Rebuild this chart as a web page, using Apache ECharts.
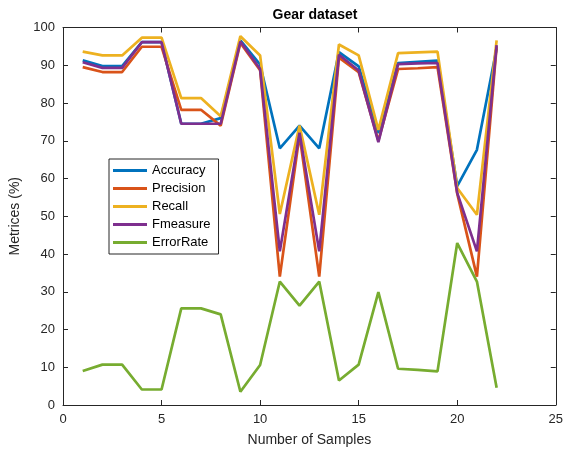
<!DOCTYPE html>
<html><head><meta charset="utf-8">
<script src="https://cdn.jsdelivr.net/npm/echarts@6/dist/echarts.min.js"></script>
<style>html,body{margin:0;padding:0;background:#fff}#c{width:566px;height:453px}</style>
</head><body><div id="c"></div>
<script>
const samples = [1,2,3,4,5,6,7,8,9,10,11,12,13,14,15,16,17,18,19,20,21,22];
const accuracy  = [91.3,89.8,89.8,96.1,96.1,74.5,74.5,76.0,96.6,90.2,68.0,74.0,68.0,93.5,89.7,72.0,90.6,90.9,91.2,58.0,67.6,94.5];
const precision = [89.5,88.2,88.2,94.9,94.9,78.2,78.2,74.0,95.9,88.7,34.0,71.5,34.0,92.0,88.2,70.0,89.0,89.2,89.5,56.0,34.0,95.0];
const recall    = [93.6,92.6,92.6,97.3,97.3,81.3,81.3,76.5,97.7,92.6,50.6,74.0,50.4,95.5,92.6,72.9,93.2,93.4,93.6,57.5,50.4,96.6];
const fmeasure  = [90.8,89.3,89.3,96.1,96.1,74.5,74.5,74.5,96.3,89.0,40.7,72.1,40.7,92.8,88.6,69.6,90.3,90.5,90.6,56.2,40.7,95.3];
const errorRate = [9.0,10.7,10.7,4.1,4.1,25.6,25.6,24.0,3.5,10.6,32.7,26.3,32.7,6.5,10.7,29.9,9.6,9.3,8.9,42.9,32.7,4.6];
const seriesNames = ['Accuracy','Precision','Recall','Fmeasure','ErrorRate'];
const seriesData = [accuracy, precision, recall, fmeasure, errorRate];
const colors = ['#0072BD','#D95319','#EDB120','#7E2F8E','#77AC30'];

const font = "'Liberation Sans', Arial, Helvetica, sans-serif";
const axisCol = '#262626';
const chart = echarts.init(document.getElementById('c'), null, {renderer:'canvas'});
const baseX = {type:'value', min:0, max:25, interval:5,
  axisLine:{show:true, onZero:false, lineStyle:{color:axisCol, width:1}},
  axisTick:{show:true, inside:true, length:5, lineStyle:{color:axisCol}},
  splitLine:{show:false}};
const baseY = {type:'value', min:0, max:100, interval:10,
  axisLine:{show:true, onZero:false, lineStyle:{color:axisCol, width:1}},
  axisTick:{show:true, inside:true, length:5, lineStyle:{color:axisCol}},
  splitLine:{show:false}};
chart.setOption({
  animation:false,
  backgroundColor:'#fff',
  color: colors,
  title:{text:'Gear dataset', left:310, textAlign:'center', top:3,
    textStyle:{fontFamily:font, fontSize:14, fontWeight:'bold', color:'#000'}},
  grid:{left:63, right:8, top:27.5, bottom:48, containLabel:false},
  legend:{orient:'vertical', left:109, top:159, padding:[4,8,4,4],
    icon:'rect', itemWidth:34, itemHeight:3, itemGap:3,
    borderColor:'#262626', borderWidth:1, backgroundColor:'#fff',
    textStyle:{fontFamily:font, fontSize:13, color:'#000', lineHeight:15},
    data: seriesNames},
  xAxis:[
    Object.assign({}, baseX, {position:'bottom', name:'Number of Samples', nameLocation:'middle', nameGap:28,
      nameTextStyle:{fontFamily:font, fontSize:14, color:axisCol},
      axisLabel:{fontFamily:font, fontSize:13, color:axisCol, margin:8}}),
    Object.assign({}, baseX, {position:'top', axisLabel:{show:false}})
  ],
  yAxis:[
    Object.assign({}, baseY, {position:'left', name:'Metrices (%)', nameLocation:'middle', nameGap:36,
      nameTextStyle:{fontFamily:font, fontSize:14, color:axisCol},
      axisLabel:{fontFamily:font, fontSize:13, color:axisCol, margin:8}}),
    Object.assign({}, baseY, {position:'right', axisLabel:{show:false}})
  ],
  series: seriesNames.map((n,i)=>({
    name:n, type:'line', symbol:'none', xAxisIndex:0, yAxisIndex:0,
    data: samples.map((x,j)=>[x, seriesData[i][j]]),
    lineStyle:{width:2.7, color:colors[i]}, itemStyle:{color:colors[i]}
  }))
});
</script></body></html>
